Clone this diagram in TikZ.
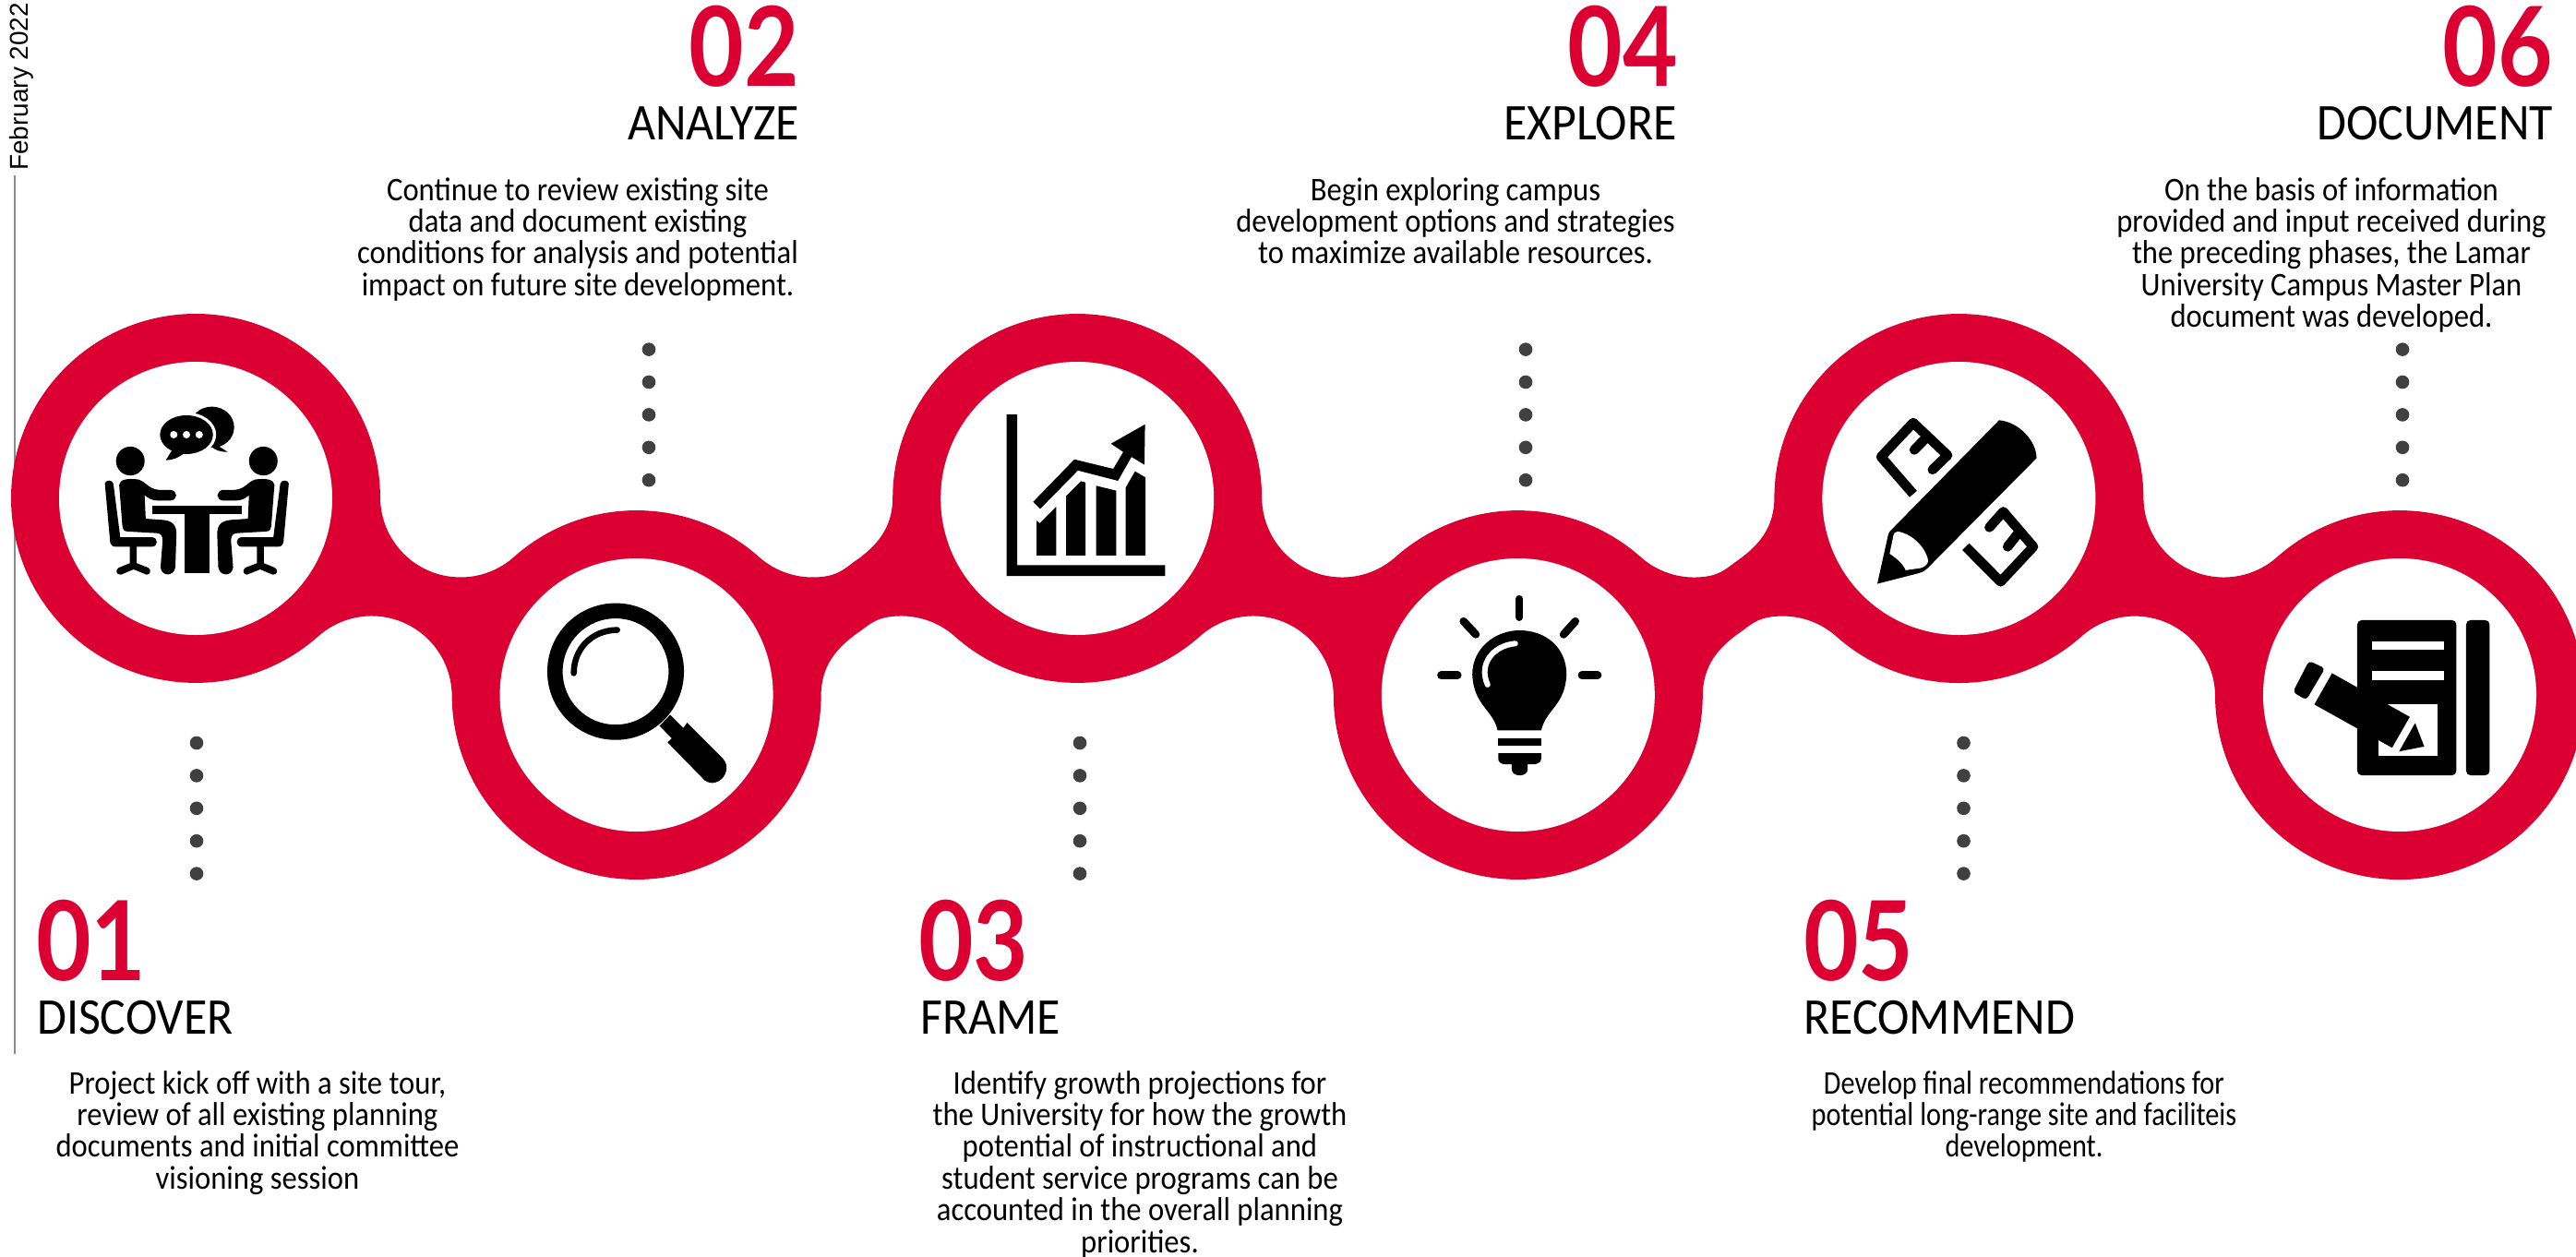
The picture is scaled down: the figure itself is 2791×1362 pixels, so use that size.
\documentclass[tikz,border=0pt]{standalone}
\usepackage{fontspec}
\setmainfont{Carlito}
\newfontfamily\datefont{Liberation Sans}
\newfontfamily\numfont{Lato}[FakeStretch=0.86]
\newfontfamily\headfont{Carlito}[FakeStretch=0.93]
\newfontfamily\bodyfont{Carlito}[FakeStretch=0.91]
\newfontfamily\narrowbody{Carlito}[FakeStretch=0.845]
\definecolor{lured}{HTML}{DC0032}
\definecolor{dotgrey}{HTML}{404040}
\newcommand\fl{\rule{0pt}{25bp}}
\newcommand\personicon{%
  \fill (246,447) ellipse [x radius=27,y radius=35];
  \fill (225,505) .. controls (226,492) and (240,488) .. (262,492) .. controls (275,497) and (280,515) .. (300,517) -- (322,517) .. controls (336,520) and (336,541) .. (322,543) -- (298,543) .. controls (288,543) and (280,538) .. (273,530) -- (275,587) -- (308,590) .. controls (328,593) and (333,605) .. (333,625) -- (331,705) .. controls (328,728) and (305,728) .. (303,705) -- (307,640) .. controls (307,628) and (303,622) .. (295,622) -- (240,618) .. controls (233,617) and (232,612) .. (231,605) -- cycle;
  \fill (198,502) .. controls (198,492) and (213,492) .. (214,502) -- (227,632) -- (287,632) .. controls (299,633) and (299,654) .. (287,655) -- (258,655) -- (258,695) -- (280,706) .. controls (286,712) and (284,722) .. (277,723) -- (252,710) -- (228,723) .. controls (218,722) and (218,712) .. (224,706) -- (245,695) -- (245,655) -- (218,655) .. controls (212,655) and (209,650) .. (208,645) -- cycle;
}
\tikzset{
  x=1bp,y=-1bp,
  ribbon/.style={fill=lured},
  hole/.style={fill=white},
  spot/.style={fill=dotgrey},
  numlabel/.style={inner sep=0pt,text=lured,font=\numfont\bfseries\fontsize{120}{120}\selectfont},
  headlabel/.style={inner sep=0pt,text=black,font=\headfont\fontsize{56}{56}\selectfont},
  bodytext/.style={inner sep=0pt,anchor=north,align=center,font=\bodyfont\fontsize{36}{34.5}\selectfont},
  narrowtext/.style={bodytext,font=\narrowbody\fontsize{36}{34.5}\selectfont},
  zoomA/.style={shift={(0,300)},x=0.574bp,y=-0.4464bp},
  zoomB/.style={shift={(900,300)},x=0.6378bp,y=-0.4464bp},
  zoomC/.style={shift={(1880,300)},x=0.581bp,y=-0.4464bp},
}
\begin{document}
\begin{tikzpicture}
\useasboundingbox (0,0) rectangle (2791,1362);
\fill[white] (0,0) rectangle (2791,1362);
% date and rule
\node[inner sep=0pt,rotate=90,anchor=east,font=\datefont\fontsize{28}{28}\selectfont] (date) at (23,3) {February 2022};
\coordinate (ruleTop) at (16,190);
\coordinate (ruleEnd) at (16,1142);
\draw[line width=2.5bp,color=gray!90] (ruleTop) -- (ruleEnd);
% ribbon
\fill[ribbon] (12,540)
 arc[start angle=180,end angle=359.7,radius=200]
 arc[start angle=179.7,end angle=48.38,radius=87]
 arc[start angle=228.38,end angle=311.62,radius=200]
 arc[start angle=131.62,end angle=90,radius=87]
 .. controls (905,625.5) and (913,618) .. (925,609) .. controls (950,592) and (967.2,572) .. (967.2,539)
 arc[start angle=180.3,end angle=359.7,radius=200]
 arc[start angle=179.7,end angle=48.38,radius=87]
 arc[start angle=228.38,end angle=311.62,radius=200]
 arc[start angle=131.62,end angle=90,radius=87]
 .. controls (1860.2,625.5) and (1868.2,618) .. (1880.2,609) .. controls (1905.2,592) and (1922.4,572) .. (1922.4,539)
 arc[start angle=180.3,end angle=359.7,radius=200]
 arc[start angle=179.7,end angle=48.38,radius=87]
 arc[start angle=228.38,end angle=539.7,radius=200]
 arc[start angle=359.7,end angle=228.38,radius=87]
 arc[start angle=48.38,end angle=131.62,radius=200]
 arc[start angle=311.62,end angle=270,radius=87]
 .. controls (1907,667.5) and (1899,675) .. (1887,684) .. controls (1862,701) and (1844.8,721) .. (1844.8,754)
 arc[start angle=0.3,end angle=179.7,radius=200]
 arc[start angle=359.7,end angle=228.38,radius=87]
 arc[start angle=48.38,end angle=131.62,radius=200]
 arc[start angle=311.62,end angle=270,radius=87]
 .. controls (951.8,667.5) and (943.8,675) .. (931.8,684) .. controls (906.8,701) and (889.6,721) .. (889.6,754)
 arc[start angle=0.3,end angle=179.7,radius=200]
 arc[start angle=359.7,end angle=228.38,radius=87]
 arc[start angle=48.38,end angle=180,radius=200]
 -- cycle;
% holes
\foreach \cx/\cy in {212/540,689.6/753,1167.2/540,1644.8/753,2122.4/540,2600/753}
  \fill[hole] (\cx,\cy) circle (148bp);
% dotted leaders
\foreach \px/\yy in {703/0,1653/0,2603/0,213/1,1170/1,2127.5/1}
  \foreach \k in {0,1,2,3,4}
    \fill[spot] (\px,{378.6+\k*35.4+\yy*426.4}) circle (7.3bp);
% icon 1
\begin{scope}[zoomA]
  \fill (400,365) ellipse [x radius=42,y radius=50];
  \fill (405,405) -- (430,425) .. controls (415,425) and (405,420) .. (400,412) -- cycle;
  \fill[white] (352,383) ellipse [x radius=56,y radius=54];
  \fill (352,383) ellipse [x radius=50,y radius=47];
  \fill (325,420) -- (313,445) .. controls (325,445) and (335,440) .. (348,428) -- cycle;
  \foreach \d in {328,352,376} \fill[white] (\d,383) ellipse [x radius=7,y radius=9];
  \fill (287,556) rectangle (457,576);
  \fill (348,576) rectangle (395,720);
  \personicon
  \begin{scope}[shift={(743,0)},xscale=-1]\personicon\end{scope}
  % icon 2
  \fill[even odd rule] (1162,958) ellipse [x radius=129,y radius=166] (1162,958) ellipse [x radius=100,y radius=129];
  \draw[line width=6.5bp,line cap=round] (1165,857) .. controls (1115,858) and (1083,905) .. (1083,962);
  \fill (1245,1090) -- (1265,1063) -- (1290,1095) -- (1297,1082) -- (1365,1170) .. controls (1385,1200) and (1355,1245) .. (1330,1222) -- (1260,1130) -- (1268,1120) -- cycle;
\end{scope}
% icon 3 and icon 4
\begin{scope}[zoomB]
  \fill (299,334) -- (317,334) -- (317,700) -- (568,700) -- (568,726) -- (299,726) -- cycle;
  \fill (350,592) -- (355,598) -- (383,558) -- (383,676) -- (350,676) -- cycle;
  \fill (400,532) -- (425,496) -- (433,499) -- (433,676) -- (400,676) -- cycle;
  \fill (451,507) -- (485,519) -- (485,676) -- (451,676) -- cycle;
  \fill (501,512) -- (517,472) -- (535,487) -- (535,676) -- (501,676) -- cycle;
  \fill (344,546) -- (414,443) -- (480,466) -- (497,425) -- (476,405) -- (534,358) -- (533,456) -- (511,437) -- (488,495) -- (420,470) -- (356,563) -- cycle;
  \draw[line width=8.5bp,line cap=round] (1170,782) -- (1170,826);
  \draw[line width=8.5bp,line cap=round] (1075,836) -- (1096,868);
  \draw[line width=8.5bp,line cap=round] (1265,836) -- (1245,868);
  \draw[line width=8.5bp,line cap=round] (1037,967) -- (1065,967);
  \draw[line width=8.5bp,line cap=round] (1276,967) -- (1303,967);
  \fill (1133,1101) .. controls (1125,1050) and (1092,1040) .. (1090,965) .. controls (1090,900) and (1130,858) .. (1170,858) .. controls (1215,858) and (1250,900) .. (1250,965) .. controls (1248,1040) and (1215,1050) .. (1207,1101) -- cycle;
  \draw[white,line width=6bp,line cap=round] (1163,890) .. controls (1125,895) and (1100,940) .. (1116,990);
  \fill (1134,1120) rectangle (1207,1138);
  \fill (1134,1156) -- (1207,1156) -- (1207,1170) .. controls (1207,1178) and (1200,1183) .. (1195,1183) -- (1184,1183) -- (1184,1195) .. controls (1184,1215) and (1157,1215) .. (1157,1195) -- (1157,1183) -- (1145,1183) .. controls (1140,1183) and (1134,1178) .. (1134,1170) -- cycle;
\end{scope}
% icon 5 and icon 6
\begin{scope}[zoomC]
  \draw[line width=10.5bp,line join=round] (332,527) -- (272,437) -- (332,354) -- (396,433);
  \draw[line width=10.5bp,line cap=round] (396,433) -- (368,468);
  \draw[line width=10.5bp,line cap=round] (358,388) -- (334,420);
  \draw[line width=10.5bp,line join=round] (430,655) -- (495,740) -- (556,655) -- (500,570);
  \draw[line width=10.5bp,line cap=round] (500,570) -- (474,608);
  \draw[line width=10.5bp,line cap=round] (528,622) -- (508,655);
  \fill (492,348) .. controls (530,352) and (562,400) .. (562,440) -- (358,708) .. controls (352,716) and (345,718) .. (340,720) -- (265,745) -- (285,628) .. controls (286,620) and (288,618) .. (292,613) -- cycle;
  \fill[white] (303,618) .. controls (335,625) and (358,665) .. (360,690) .. controls (358,700) and (352,705) .. (345,707) -- (318,712) .. controls (312,695) and (300,682) .. (288,672) -- (295,628) .. controls (296,622) and (298,619) .. (303,618) -- cycle;
  \fill[rounded corners=5bp] (1160,833) -- (1345,833) -- (1345,1210) -- (1160,1210) -- cycle;
  \fill[rounded corners=5bp] (1363,833) -- (1407,833) -- (1407,1210) -- (1363,1210) -- cycle;
  \fill[white] (1187,885) rectangle (1322,906);
  \fill[white] (1187,957) rectangle (1322,978);
  \fill[white] (1200,1037) rectangle (1310,1162);
  \fill (1113,962) -- (1258,1068) -- (1225,1143) -- (1080,1038) -- cycle;
  \fill[rounded corners=4bp] (1070,932) -- (1100,950) -- (1065,1027) -- (1040,1008) -- cycle;
  \fill (1268,1083) -- (1285,1140) -- (1238,1152) -- cycle;
\end{scope}
% labels
\node[numlabel,anchor=base west] (n1) at (39,1062) {01};
\node[headlabel,anchor=base west] (h1) at (40,1120) {DISCOVER};
\node[bodytext] (b1) at (279,1160) {\fl Project kick off with a site tour,\\review of all existing planning\\documents and initial committee\\visioning session};
\node[numlabel,anchor=base east] (n2) at (866,94) {02};
\node[headlabel,anchor=base east] (h2) at (866,152) {ANALYZE};
\node[bodytext] (b2) at (626,192) {\fl Continue to review existing site\\data and document existing\\conditions for analysis and potential\\impact on future site development.};
\node[numlabel,anchor=base west] (n3) at (995,1062) {03};
\node[headlabel,anchor=base west] (h3) at (997,1120) {FRAME};
\node[bodytext] (b3) at (1235,1160) {\fl Identify growth projections for\\the University for how the growth\\potential of instructional and\\student service programs can be\\accounted in the overall planning\\priorities.};
\node[numlabel,anchor=base east] (n4) at (1818,94) {04};
\node[headlabel,anchor=base east] (h4) at (1817,152) {EXPLORE};
\node[bodytext] (b4) at (1577,192) {\fl Begin exploring campus\\development options and strategies\\to maximize available resources.};
\node[numlabel,anchor=base west] (n5) at (1954,1062) {05};
\node[headlabel,anchor=base west] (h5) at (1954,1120) {RECOMMEND};
\node[narrowtext] (b5) at (2193,1160) {\fl Develop final recommendations for\\potential long-range site and faciliteis\\development.};
\node[numlabel,anchor=base east] (n6) at (2766,94) {06};
\node[headlabel,anchor=base east] (h6) at (2766,152) {DOCUMENT};
\node[bodytext] (b6) at (2526,192) {\fl On the basis of information\\provided and input received during\\the preceding phases, the Lamar\\University Campus Master Plan\\document was developed.};
\end{tikzpicture}
\end{document}
